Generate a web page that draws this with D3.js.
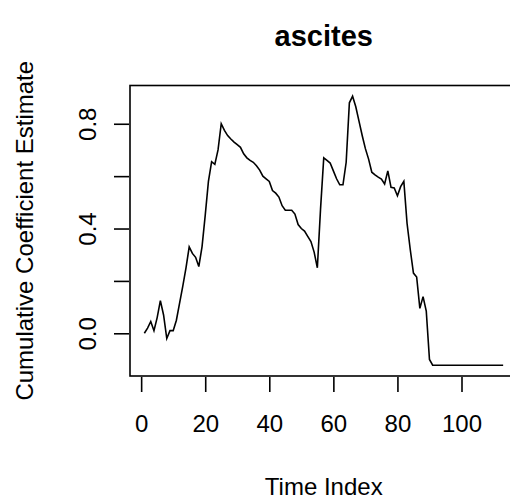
<!DOCTYPE html>
<html>
<head>
<meta charset="utf-8">
<script src="https://cdn.jsdelivr.net/npm/d3@7"></script>
<style>
  html, body { margin: 0; padding: 0; background: #fff; }
  svg { display: block; }
  text { font-family: "Liberation Sans", Arial, sans-serif; fill: #000; }
</style>
</head>
<body>
<svg id="chart" width="510" height="504"></svg>
<script>
const chartTitle = "ascites";
const xLabel = "Time Index";
const yLabel = "Cumulative Coefficient Estimate";

// cumulative coefficient estimate at time index 1..113
const estimates = [
  0.00, 0.02, 0.045, 0.01, 0.06, 0.125, 0.07, -0.02, 0.01, 0.01,
  0.05, 0.115, 0.18, 0.25, 0.33, 0.305, 0.29, 0.255, 0.33, 0.45,
  0.58, 0.655, 0.645, 0.70, 0.80, 0.775, 0.755, 0.742, 0.73, 0.72,
  0.71, 0.685, 0.67, 0.66, 0.653, 0.64, 0.623, 0.60, 0.59, 0.58,
  0.545, 0.535, 0.52, 0.487, 0.47, 0.47, 0.47, 0.455, 0.415, 0.40,
  0.39, 0.37, 0.35, 0.31, 0.25, 0.475, 0.67, 0.66, 0.65, 0.62,
  0.59, 0.567, 0.567, 0.653, 0.88, 0.905, 0.865, 0.81, 0.755, 0.705,
  0.665, 0.615, 0.605, 0.596, 0.589, 0.57, 0.62, 0.557, 0.555, 0.525,
  0.56, 0.58, 0.42, 0.32, 0.23, 0.215, 0.095, 0.14, 0.085, -0.10,
  -0.122, -0.122, -0.122, -0.122, -0.122, -0.122, -0.122, -0.122, -0.122, -0.122,
  -0.122, -0.122, -0.122, -0.122, -0.122, -0.122, -0.122, -0.122, -0.122, -0.122,
  -0.122, -0.122, -0.122
];
const xTicks = [0, 20, 40, 60, 80, 100];
const yTicks = [0.0, 0.2, 0.4, 0.6, 0.8];
const yTickLabels = ["0.0", "", "0.4", "", "0.8"];

const svg = d3.select("#chart");
const pLeft = 130, pRight = 517.5, pTop = 85.5, pBottom = 376;

const pts = estimates.map((v, i) => ({ t: i + 1, v }));

function padded(ext) {
  const r = ext[1] - ext[0];
  return [ext[0] - 0.04 * r, ext[1] + 0.04 * r];
}
const x = d3.scaleLinear().domain(padded(d3.extent(pts, d => d.t))).range([pLeft, pRight]);
const y = d3.scaleLinear().domain(padded(d3.extent(pts, d => d.v))).range([pBottom, pTop]);

const stroke = "#000";
const lw = 1.6;

// plot box
svg.append("rect")
  .attr("x", pLeft).attr("y", pTop)
  .attr("width", pRight - pLeft).attr("height", pBottom - pTop)
  .attr("fill", "none").attr("stroke", stroke).attr("stroke-width", lw);

// data line
svg.append("path")
  .datum(pts)
  .attr("fill", "none")
  .attr("stroke", stroke)
  .attr("stroke-width", lw)
  .attr("stroke-linejoin", "miter")
  .attr("d", d3.line().x(d => x(d.t)).y(d => y(d.v)));

// x axis
const xAxis = d3.axisBottom(x).tickValues(xTicks).tickSize(15)
  .tickFormat(d3.format("d"));
const gx = svg.append("g").attr("transform", `translate(0,${pBottom + 1})`).call(xAxis);
gx.select(".domain").remove();
gx.selectAll(".tick line").attr("stroke", stroke).attr("stroke-width", lw);
gx.selectAll(".tick text").attr("font-size", 24).attr("font-family", "Liberation Sans, Arial, sans-serif")
  .attr("fill", "#000").attr("dy", null).attr("y", 55);

// y axis
const yAxis = d3.axisLeft(y).tickValues(yTicks).tickSize(15)
  .tickFormat((d, i) => yTickLabels[i]);
const gy = svg.append("g").attr("transform", `translate(${pLeft - 1},0)`).call(yAxis);
gy.select(".domain").remove();
gy.selectAll(".tick line").attr("stroke", stroke).attr("stroke-width", lw);
gy.selectAll(".tick text")
  .attr("font-size", 24).attr("font-family", "Liberation Sans, Arial, sans-serif")
  .attr("fill", "#000")
  .attr("x", null).attr("dy", null)
  .attr("text-anchor", "middle")
  .attr("transform", "translate(-33,0) rotate(-90)");

// titles
const cx = (pLeft + pRight) / 2;
svg.append("text")
  .attr("x", cx).attr("y", 46)
  .attr("text-anchor", "middle")
  .attr("font-size", 29).attr("font-weight", "bold")
  .text(chartTitle);

svg.append("text")
  .attr("x", cx).attr("y", 495)
  .attr("text-anchor", "middle")
  .attr("font-size", 24)
  .text(xLabel);

svg.append("text")
  .attr("transform", `translate(33,${(pTop + pBottom) / 2}) rotate(-90)`)
  .attr("text-anchor", "middle")
  .attr("font-size", 24)
  .text(yLabel);
</script>
</body>
</html>
